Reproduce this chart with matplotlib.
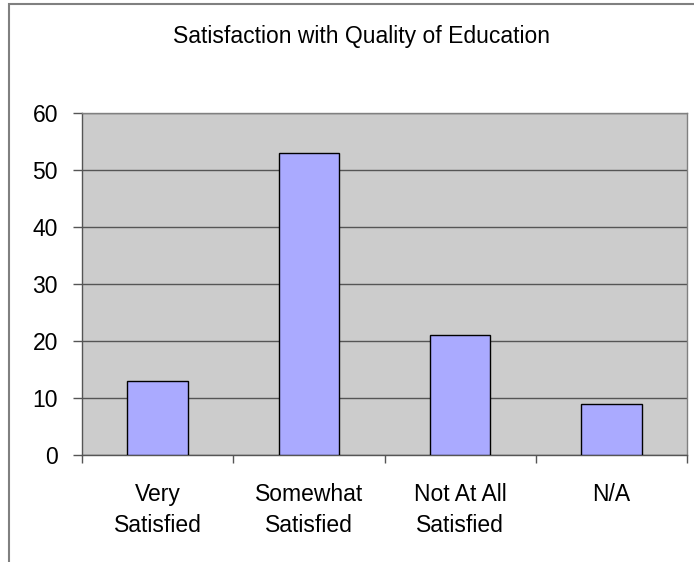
import matplotlib
matplotlib.use("Agg")
import matplotlib.pyplot as plt
from matplotlib.patches import Rectangle

categories = ["Very\nSatisfied", "Somewhat\nSatisfied", "Not At All\nSatisfied", "N/A"]
values = [13, 53, 21, 9]
yticks = [0, 10, 20, 30, 40, 50, 60]
title = "Satisfaction with Quality of Education"

plt.rcParams['font.family'] = ['Liberation Sans', 'DejaVu Sans']

W, H = 694, 562
fig = plt.figure(figsize=(W / 100, H / 100), dpi=100)
fig.patch.set_facecolor("white")

# outer chart border (extends past right/bottom edge)
fig.patches.append(Rectangle((9 / W, -0.1), 1.2, 1 - 4 / H + 0.1, transform=fig.transFigure,
                             facecolor="none", edgecolor="#808080", linewidth=1.5))

left, right, top, bottom = 82, 687, 113, 455
ax = fig.add_axes([left / W, 1 - bottom / H, (right - left) / W, (bottom - top) / H])
ax.set_facecolor("#CCCCCC")

x = [i + 0.5 for i in range(len(values))]
ax.bar(x, values, width=0.4, color="#AAAAFF", edgecolor="black", linewidth=1.0, zorder=3)

ax.set_xlim(0, len(values))
ax.set_ylim(0, 60)
ax.set_yticks(yticks)
ax.set_yticklabels([str(v) for v in yticks])
ax.yaxis.grid(True, color="#555555", linewidth=1.0, zorder=1)
ax.set_axisbelow(True)

ax.set_xticks(range(len(values) + 1))
ax.set_xticklabels([])
ax.set_xticks(x, minor=True)
ax.set_xticklabels(categories, minor=True, linespacing=1.4)
ax.tick_params(axis="x", which="major", length=6, width=1, color="#555555", direction="out")
ax.tick_params(axis="x", which="minor", length=0, pad=20.5, labelsize=16.5)
ax.tick_params(axis="y", which="major", length=6.5, width=1, color="#555555", direction="out",
               pad=10.8, labelsize=16.5)

for side in ["top", "right"]:
    ax.spines[side].set_color("#808080")
for side in ["left", "bottom"]:
    ax.spines[side].set_color("#555555")
for s in ax.spines.values():
    s.set_linewidth(1.0)

fig.text(361.5 / W, 1 - 37 / H, title, ha="center", va="center", fontsize=16.5)

fig.savefig("out.png", dpi=100)
